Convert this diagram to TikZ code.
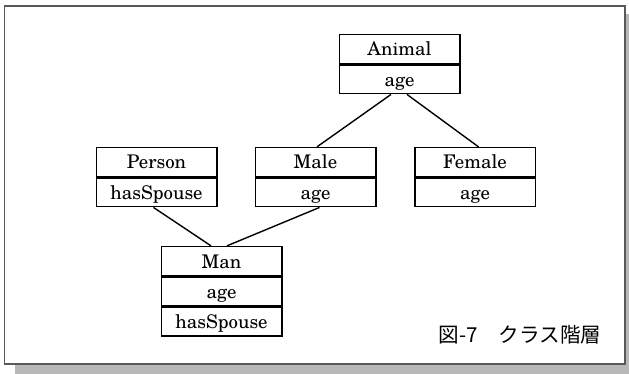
\documentclass[tikz,border=0pt]{standalone}
\usepackage{fontspec}
\newfontfamily\clsfont{TeX Gyre Schola}
\newfontfamily\jpfont{Noto Sans CJK JP}
\usetikzlibrary{positioning}
\tikzset{
	cls/.style={draw, line width=1.5pt, minimum width=120.5pt, minimum height=28.8pt, inner sep=0pt,
		text height=17pt, text depth=3pt, font=\clsfont\fontsize{18.8}{20}\selectfont},
	link/.style={line width=1.4pt},
}

\begin{document}
\begin{tikzpicture}[x=1pt, y=-1pt]
			%%%%% START %%%%%
			\useasboundingbox (0,0) rectangle (629,374);
			
			\fill[black!28] (15,14) rectangle (629,374);
			\draw[line width=1.3pt, color=black!65, fill=white] (4.6,6) rectangle (625,364);
			
			\node[cls] (animal) at (399.5,49) {Animal};
			\node[cls, below=0pt of animal] (animalAge) {age};
			
			\node[cls] (person) at (156.5,162) {Person};
			\node[cls, below=0pt of person] (personSpouse) {hasSpouse};
			
			\node[cls] (male) at (315.5,162) {Male};
			\node[cls, below=0pt of male] (maleAge) {age};
			
			\node[cls] (female) at (475,162) {Female};
			\node[cls, below=0pt of female] (femaleAge) {age};
			
			\node[cls] (man) at (221.5,261) {Man};
			\node[cls, below=0pt of man] (manAge) {age};
			\node[cls, below=0pt of manAge] (manSpouse) {hasSpouse};
			
			\draw[link] ([xshift=-8.5pt]animalAge.south) -- ([xshift=1.5pt]male.north);
			\draw[link] ([xshift=7.5pt]animalAge.south) -- ([xshift=3.5pt]female.north);
			\draw[link] ([xshift=-3pt]personSpouse.south) -- ([xshift=-10.5pt]man.north);
			\draw[link] ([xshift=4pt]maleAge.south) -- ([xshift=5.5pt]man.north);
			
			\node[font=\jpfont\fontsize{20.6}{21}\selectfont] (caption) at (520,335) {図-7　クラス階層};
			
			%%%%% END %%%%%
		\end{tikzpicture}
\end{document}
